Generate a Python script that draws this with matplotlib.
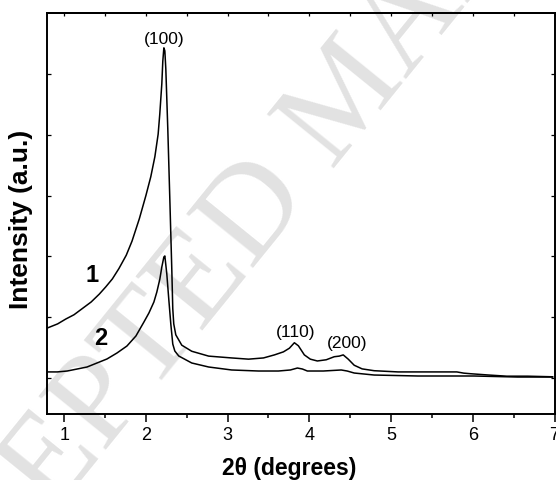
import numpy as np
import matplotlib
matplotlib.use("Agg")
import matplotlib.pyplot as plt

# Diffraction pattern 1 (upper trace)
two_theta_1 = [0.79, 0.92, 1.02, 1.12, 1.22, 1.33, 1.43, 1.51, 1.59, 1.67, 1.76, 1.83,
               1.92, 2.00, 2.06, 2.11, 2.15, 2.17, 2.195, 2.207, 2.22, 2.232, 2.244,
               2.268, 2.293, 2.317, 2.329, 2.341, 2.366, 2.439, 2.561, 2.768, 3.049,
               3.256, 3.439, 3.573, 3.683, 3.756, 3.817, 3.866, 3.939, 4.012, 4.098,
               4.207, 4.305, 4.366, 4.415, 4.476, 4.549, 4.646, 4.793, 5.085, 5.402,
               5.634, 5.805, 5.890, 5.976, 6.183, 6.415, 6.671, 6.976]
intensity_1 = [0.82, 0.89, 0.97, 1.04, 1.14, 1.25, 1.38, 1.50, 1.63, 1.80, 2.02, 2.25,
               2.62, 3.00, 3.31, 3.64, 4.01, 4.34, 4.84, 5.21, 5.43, 5.38, 5.08,
               4.10, 2.94, 1.79, 1.14, 0.89, 0.71, 0.54, 0.44, 0.36, 0.33,
               0.31, 0.33, 0.38, 0.43, 0.49, 0.58, 0.53, 0.38, 0.31, 0.28,
               0.30, 0.35, 0.36, 0.38, 0.31, 0.21, 0.15, 0.12, 0.10, 0.10,
               0.10, 0.10, 0.08, 0.07, 0.05, 0.03, 0.03, 0.02]

# Diffraction pattern 2 (lower trace)
two_theta_2 = [0.79, 0.915, 1.037, 1.159, 1.280, 1.402, 1.524, 1.646, 1.768, 1.878,
               1.976, 2.037, 2.098, 2.134, 2.171, 2.195, 2.220, 2.232, 2.256, 2.280,
               2.305, 2.329, 2.354, 2.402, 2.561, 2.768, 3.049, 3.378, 3.622, 3.768,
               3.854, 3.915, 3.976, 4.171, 4.390, 4.463, 4.549, 4.793, 5.329, 6.012,
               6.549, 6.976]
intensity_2 = [0.10, 0.10, 0.115, 0.148, 0.181, 0.247, 0.313, 0.411, 0.526, 0.691,
               0.921, 1.069, 1.250, 1.414, 1.628, 1.826, 1.990, 2.007, 1.711, 1.299,
               0.888, 0.559, 0.444, 0.362, 0.247, 0.181, 0.132, 0.115, 0.115, 0.132,
               0.164, 0.148, 0.115, 0.115, 0.132, 0.115, 0.082, 0.049, 0.033, 0.033,
               0.016, 0.016]

# Reflection labels
reflections = ["(100)", "(110)", "(200)"]
reflection_pos = [(2.226, 5.58), (3.83, 0.76), (4.46, 0.58)]
curve_names = ["1", "2"]
curve_name_pos = [(1.34, 1.71), (1.45, 0.66)]

x_ticks = [1, 2, 3, 4, 5, 6, 7]
x_minor = [1.5, 2.5, 3.5, 4.5, 5.5, 6.5]
y_ticks = [0, 1, 2, 3, 4, 5]

plt.rcParams['font.family'] = ['Liberation Sans', 'DejaVu Sans']

fig = plt.figure(figsize=(5.56, 4.81), dpi=100)
ax = fig.add_axes([47 / 556, 66 / 481, 507.5 / 556, 401 / 481])
ax.patch.set_facecolor('none')

# Faint diagonal stamp across the page
fig.text(350 / 556, 1 - 98 / 481, "ACCEPTED MANUSCRIPT", rotation=51,
         rotation_mode='anchor', ha='center', va='center', fontsize=95,
         family='Liberation Serif', color='#e2e2e2', zorder=-1)

ax.plot(two_theta_1, intensity_1, color='black', lw=1.1)
ax.plot(two_theta_2, intensity_2, color='black', lw=1.1)

for lab, (x, y) in zip(reflections, reflection_pos):
    ax.text(x, y, lab, ha='center', va='center', fontsize=12.5)
for lab, (x, y) in zip(curve_names, curve_name_pos):
    ax.text(x, y, lab, ha='center', va='center', fontsize=17, fontweight='bold')

ax.set_xlim(0.79, 7.0)
ax.set_ylim(-0.592, 6.003)

ax.set_xticks(x_ticks)
ax.set_xticks(x_minor, minor=True)
ax.tick_params(axis='x', which='major', direction='out', length=6, width=1.1,
               labelsize=13, pad=3, top=False)
ax.tick_params(axis='x', which='minor', direction='out', length=3, width=1.1, top=False)

ax.set_yticks(y_ticks)
ax.tick_params(axis='y', which='both', direction='in', length=3, width=0.9,
               labelleft=False, right=True)

top = ax.secondary_xaxis('top')
top.set_xticks(x_ticks + x_minor)
top.tick_params(direction='in', length=2.5, width=0.9, labeltop=False)

for s in ax.spines.values():
    s.set_linewidth(1.4)
top.spines['top'].set_linewidth(1.4)

ax.set_xlabel("2θ (degrees)", fontsize=16.5, fontweight='bold')
ax.xaxis.set_label_coords(0.477, -0.105)
ax.set_ylabel("Intensity (a.u.)", fontsize=19, fontweight='bold')
ax.yaxis.set_label_coords(-0.028, 0.489)

fig.savefig("out.png", dpi=100)
